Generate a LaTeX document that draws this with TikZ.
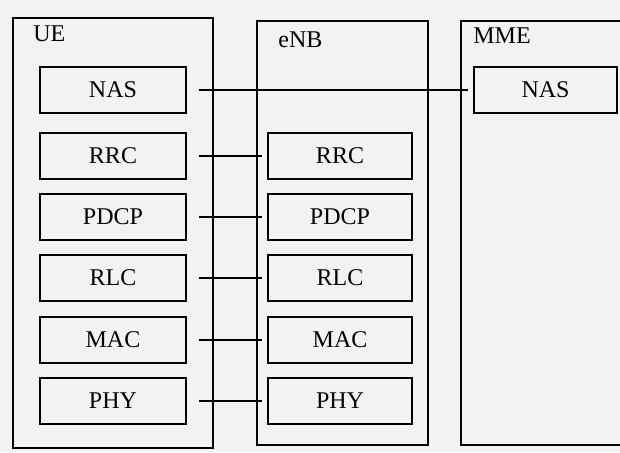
\documentclass[tikz,border=0pt]{standalone}
\usepackage{fontspec}
\setmainfont{Liberation Serif}
\begin{document}
\begin{tikzpicture}[x=0.5pt, y=-0.5pt,
    entity/.style={draw, line width=1pt, anchor=north west, inner sep=0pt},
    layer/.style={draw, line width=1pt, minimum height=23pt, inner sep=0pt,
      font=\fontsize{12}{14}\selectfont},
    title/.style={anchor=base west, inner sep=0pt, font=\fontsize{12}{14}\selectfont},
    link/.style={line width=1pt, shorten <=6pt, shorten >=2.5pt}]
  % page
  \fill[black!5] (0,0) rectangle (620,452);
  \clip (0,0) rectangle (620,452);

  % entities
  \node[entity, minimum width=100pt, minimum height=215pt] (ue) at (12,17) {};
  \node[entity, minimum width=85.5pt, minimum height=212pt] (enb) at (256,20) {};
  \node[entity, minimum width=100pt, minimum height=212pt] (mme) at (460,20) {};

  % titles
  \node[title] (ue-title) at (33,41) {UE};
  \node[title] (enb-title) at (278,47) {eNB};
  \node[title] (mme-title) at (473,43) {MME};

  % protocol stacks
  \foreach \name/\lbl/\y in {nas/NAS/90, rrc/RRC/156, pdcp/PDCP/217, rlc/RLC/278, mac/MAC/340, phy/PHY/401}
    \node[layer, minimum width=73pt] (ue-\name) at (113,\y) {\lbl};
  \foreach \name/\lbl/\y in {rrc/RRC/156, pdcp/PDCP/217, rlc/RLC/278, mac/MAC/340, phy/PHY/401}
    \node[layer, minimum width=72pt] (enb-\name) at (340,\y) {\lbl};
  \node[layer, minimum width=71.5pt] (mme-nas) at (545.5,90) {NAS};

  % peer links
  \foreach \name in {rrc, pdcp, rlc, mac, phy}
    \draw[link] (ue-\name.east) -- (enb-\name.west);
  \draw[link] (ue-nas.east) -- (mme-nas.west);
\end{tikzpicture}
\end{document}
